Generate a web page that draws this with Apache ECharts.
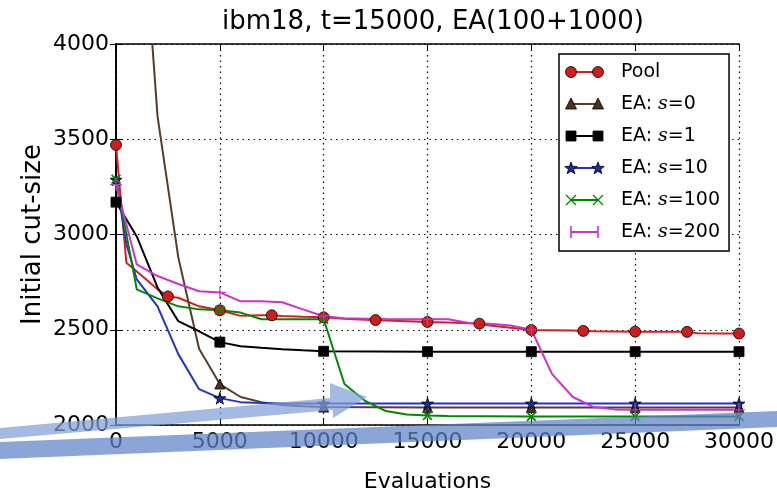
<!DOCTYPE html>
<html lang="en">
<head>
    <meta charset="UTF-8">
    <title>ibm18</title>
    <script src="https://cdn.jsdelivr.net/npm/echarts@6/dist/echarts.min.js"></script>
    <style>
        html, body {margin: 0; padding: 0; background: #fff;}
        #main {width: 777px; height: 498px;}
    </style>
</head>
<body>
    <div id="main"></div>
    <script>
        // [evaluations, initial cut-size]
        var pool = [[0,3470],[500,2852],[1000,2806],[1500,2760],[2000,2712],[2500,2675],[3000,2668],[4000,2623],[5000,2602],[6000,2573],[7000,2576],[7500,2576],[8000,2572],[9000,2568],[10000,2565],[11000,2558],[12000,2553],[12500,2551],[13000,2549],[14000,2545],[15000,2541],[16000,2538],[17000,2534],[17500,2532],[18000,2522],[19000,2510],[20000,2499],[21000,2498],[22000,2496],[22500,2494],[23000,2492],[24000,2491],[25000,2490],[26000,2490],[27000,2489],[27500,2489],[28000,2482],[29000,2480],[30000,2480]];
        var s0 = [[0,6700],[1000,5130],[2000,3620],[3000,2880],[4000,2400],[5000,2215],[6000,2147],[7000,2120],[8000,2105],[9000,2098],[10000,2094],[15000,2092],[20000,2092],[25000,2092],[30000,2092]];
        var s1 = [[0,3170],[1000,2990],[2000,2722],[3000,2545],[4000,2492],[5000,2435],[6000,2413],[7000,2405],[8000,2398],[9000,2392],[10000,2387],[15000,2385],[20000,2385],[25000,2385],[30000,2385]];
        var s10 = [[0,3288],[500,2950],[1000,2764],[2000,2623],[3000,2372],[4000,2188],[5000,2141],[6000,2120],[7000,2115],[8000,2113],[10000,2113],[15000,2113],[20000,2113],[25000,2113],[30000,2113]];
        var s100 = [[0,3290],[1000,2712],[2000,2665],[3000,2623],[4000,2607],[5000,2602],[6000,2590],[7000,2555],[8000,2555],[9000,2555],[10000,2555],[11000,2215],[12000,2126],[13000,2073],[14000,2055],[15000,2050],[16000,2047],[18000,2046],[20000,2045],[25000,2045],[30000,2045]];
        var s200 = [[0,3262],[1000,2843],[2000,2782],[3000,2740],[4000,2702],[5000,2696],[6000,2649],[7000,2649],[8000,2644],[9000,2607],[10000,2571],[11000,2560],[12000,2558],[13000,2556],[14000,2555],[15000,2555],[16000,2555],[17000,2536],[18000,2532],[19000,2522],[20000,2500],[21000,2267],[22000,2147],[23000,2094],[24000,2082],[25000,2080],[30000,2080]];
        var names = ['Pool', 'EA: s = 0', 'EA: s = 1', 'EA: s = 10', 'EA: s = 100', 'EA: s = 200'];

        var font = "'DejaVu Sans', sans-serif";
        var starPath = 'path://M50,0 L61,35 L98,35 L68,57 L79,91 L50,70 L21,91 L32,57 L2,35 L39,35 Z';
        var xPath = 'path://M0,12 L12,0 L50,38 L88,0 L100,12 L62,50 L100,88 L88,100 L50,62 L12,100 L0,88 L38,50 Z';
        var plusPath = 'path://M45,0 H55 V45 H100 V55 H55 V100 H45 V55 H0 V45 H45 Z';

        function mk(name, data, color, mcolor, symbol, size, step, border) {
            return {
                name: name,
                type: 'line',
                data: data,
                symbol: symbol,
                showAllSymbol: true,
                symbolSize: function (v) { return v[0] % step === 0 ? size : 0; },
                lineStyle: {color: color, width: 2},
                itemStyle: {color: mcolor, borderColor: border ? '#000' : mcolor, borderWidth: border ? 0.8 : 0},
                emphasis: {disabled: true},
                animation: false,
                z: 3
            };
        }

        // legend icons: line with a marker at each end
        function starPts(cx, cy, r) {
            var p = [];
            for (var i = 0; i < 10; i++) {
                var a = -Math.PI / 2 + i * Math.PI / 5;
                var rr = i % 2 ? r * 0.42 : r;
                p.push([cx + rr * Math.cos(a), cy + rr * Math.sin(a)]);
            }
            return p;
        }
        function marker(kind, cx, cy, color) {
            var edge = {stroke: '#000', lineWidth: 0.8, fill: color};
            if (kind === 'circle') return [{type: 'circle', shape: {cx: cx, cy: cy, r: 5.5}, style: edge}];
            if (kind === 'triangle') return [{type: 'polygon', shape: {points: [[cx, cy - 6], [cx + 5.5, cy + 5], [cx - 5.5, cy + 5]]}, style: edge}];
            if (kind === 'rect') return [{type: 'rect', shape: {x: cx - 5, y: cy - 5, width: 10, height: 10}, style: edge}];
            if (kind === 'star') return [{type: 'polygon', shape: {points: starPts(cx, cy + 0.5, 6.5)}, style: edge}];
            if (kind === 'x') return [
                {type: 'line', shape: {x1: cx - 5, y1: cy - 5, x2: cx + 5, y2: cy + 5}, style: {stroke: color, lineWidth: 1.2}},
                {type: 'line', shape: {x1: cx - 5, y1: cy + 5, x2: cx + 5, y2: cy - 5}, style: {stroke: color, lineWidth: 1.2}}];
            return [{type: 'rect', shape: {x: cx - 0.8, y: cy - 6, width: 1.6, height: 12}, style: {fill: color}}];
        }
        var legendKinds = [['circle', '#d42020', '#d01c1c'], ['triangle', '#5a3a28', '#4d3020'], ['rect', '#000', '#000'],
            ['star', '#2233cc', '#1a2aa0'], ['x', '#008800', '#008800'], ['plus', '#cc33cc', '#cc33cc']];
        var legendIcons = [];
        legendKinds.forEach(function (k, i) {
            var y = 72 + i * 32;
            var els = [{type: 'line', shape: {x1: 571, y1: y, x2: 598, y2: y}, style: {stroke: k[1], lineWidth: 2}}]
                .concat(marker(k[0], 571, y, k[2]), marker(k[0], 598, y, k[2]));
            els.forEach(function (e) { e.z = 120; e.silent = true; legendIcons.push(e); });
        });

        var gridLine = {show: true, lineStyle: {color: '#000', type: [1.5, 4], width: 1.2}};
        var tickIn = {show: true, inside: true, length: 6, lineStyle: {color: '#000', width: 1}};
        var axisLine = {show: true, lineStyle: {color: '#000', width: 1.6}};

        var myChart = echarts.init(document.getElementById('main'));
        var option = {
            backgroundColor: '#fff',
            title: {
                text: 'ibm18, t=15000, EA(100+1000)',
                left: 428, top: 4, textAlign: 'center',
                textStyle: {fontFamily: font, fontSize: 26, fontWeight: 'normal', color: '#000'}
            },
            grid: {left: 116, right: 38, top: 44, bottom: 72},
            legend: {
                orient: 'vertical',
                left: 559, top: 54,
                padding: [9, 9, 9, 8],
                itemGap: 13,
                itemWidth: 34, itemHeight: 12,
                backgroundColor: '#fff',
                borderColor: '#000', borderWidth: 1.5,
                itemStyle: {opacity: 0},
                lineStyle: {opacity: 0},
                data: names,
                textStyle: {
                    fontFamily: font, fontSize: 19, color: '#000',
                    rich: {
                        sp: {width: 14},
                        t: {fontFamily: font, fontSize: 19, color: '#000'},
                        s: {fontFamily: "'DejaVu Serif', serif", fontStyle: 'italic', fontSize: 19, color: '#000'}
                    }
                },
                formatter: function (n) {
                    if (n === 'Pool') return '{sp|}{t|Pool}';
                    return '{sp|}{t|EA: }{s|s}{t|=' + n.split('= ')[1] + '}';
                }
            },
            xAxis: [{
                type: 'value', min: 0, max: 30000, interval: 5000,
                name: 'Evaluations', nameLocation: 'middle', nameGap: 46, nameMoveOverlap: false,
                nameTextStyle: {fontFamily: font, fontSize: 22, color: '#000'},
                axisLine: axisLine, axisTick: tickIn, splitLine: gridLine,
                axisLabel: {fontFamily: font, fontSize: 22, color: '#000', margin: 6, formatter: function (v) { return String(v); }}
            }, {
                type: 'value', position: 'top', min: 0, max: 30000, interval: 5000,
                axisLine: axisLine, axisTick: tickIn, splitLine: {show: false},
                axisLabel: {show: false}
            }],
            yAxis: [{
                type: 'value', min: 2000, max: 4000, interval: 500,
                name: 'Initial cut-size', nameLocation: 'middle', nameGap: 70, nameMoveOverlap: false,
                nameTextStyle: {fontFamily: font, fontSize: 26, color: '#000'},
                axisLine: axisLine, axisTick: tickIn, splitLine: gridLine,
                axisLabel: {fontFamily: font, fontSize: 22, color: '#000', margin: 7, formatter: function (v) { return String(v); }}
            }, {
                type: 'value', position: 'right', min: 2000, max: 4000, interval: 500,
                axisLine: axisLine, axisTick: tickIn, splitLine: {show: false},
                axisLabel: {show: false}
            }],
            series: [
                mk(names[0], pool, '#d42020', '#d01c1c', 'circle', 11, 2500, true),
                mk(names[1], s0, '#5a3a28', '#4d3020', 'triangle', 10, 5000, true),
                mk(names[2], s1, '#000', '#000', 'rect', 10, 5000, true),
                mk(names[3], s10, '#2233cc', '#1a2aa0', starPath, 12, 5000, true),
                mk(names[4], s100, '#008800', '#008800', xPath, 10, 5000, false),
                mk(names[5], s200, '#cc33cc', '#cc33cc', plusPath, 12, 5000, false)
            ],
            graphic: legendIcons.concat([{
                type: 'polygon', z: 100, silent: true,
                shape: {points: [[0, 428], [330, 398], [330, 383], [367, 397], [333, 418], [333, 410], [0, 439]]},
                style: {fill: 'rgba(130,160,215,0.72)'}
            }, {
                type: 'polygon', z: 100, silent: true,
                shape: {points: [[0, 442], [777, 411], [777, 427], [0, 459]]},
                style: {fill: 'rgba(95,130,200,0.72)'}
            }])
        };
        myChart.setOption(option);
    </script>
</body>
</html>
